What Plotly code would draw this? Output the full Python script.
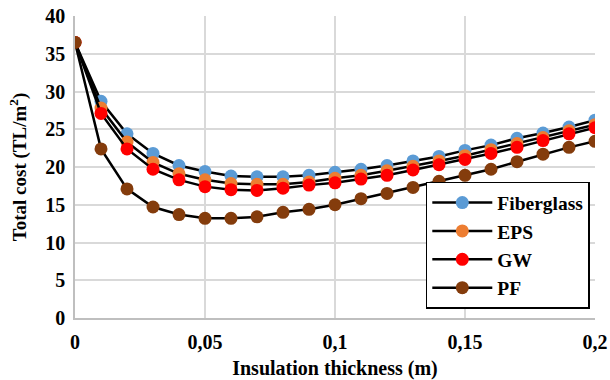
import plotly.graph_objects as go

thickness = [0, 0.01, 0.02, 0.03, 0.04, 0.05, 0.06, 0.07, 0.08, 0.09, 0.10,
             0.11, 0.12, 0.13, 0.14, 0.15, 0.16, 0.17, 0.18, 0.19, 0.20]
fiberglass = [36.5, 28.7, 24.4, 21.8, 20.2, 19.4, 18.8, 18.7, 18.7, 18.9, 19.3,
              19.7, 20.2, 20.8, 21.4, 22.2, 22.9, 23.8, 24.5, 25.3, 26.2]
eps = [36.5, 27.8, 23.3, 20.6, 19.1, 18.3, 17.8, 17.7, 17.7, 18.0, 18.5,
       18.9, 19.5, 20.1, 20.8, 21.5, 22.3, 23.1, 23.9, 24.8, 25.6]
gw = [36.5, 27.1, 22.4, 19.7, 18.3, 17.4, 17.0, 16.9, 17.2, 17.6, 17.9,
      18.4, 18.9, 19.6, 20.3, 21.0, 21.8, 22.6, 23.5, 24.4, 25.2]
pf = [36.5, 22.4, 17.1, 14.7, 13.7, 13.2, 13.2, 13.4, 14.0, 14.4, 15.0,
      15.8, 16.5, 17.3, 18.1, 18.9, 19.7, 20.7, 21.7, 22.6, 23.4]

series = [("Fiberglass", fiberglass, "#5B9BD5"),
          ("EPS", eps, "#ED7D31"),
          ("GW", gw, "#FF0000"),
          ("PF", pf, "#843C0C")]

x_tickvals = [0, 0.05, 0.1, 0.15, 0.2]
x_ticktext = ["<b>0</b>", "<b>0,05</b>", "<b>0,1</b>", "<b>0,15</b>", "<b>0,2</b>"]
y_tickvals = [0, 5, 10, 15, 20, 25, 30, 35, 40]
y_ticktext = ["<b>%d</b>" % v for v in y_tickvals]

font_family = "Liberation Serif, Times New Roman, serif"

fig = go.Figure()
for name, vals, color in series:
    fig.add_trace(go.Scatter(
        x=thickness, y=vals, name="<b>" + name + "</b>", mode="lines+markers",
        line=dict(color="black", width=2.5),
        marker=dict(color=color, size=13),
    ))

fig.update_layout(
    width=610, height=380,
    margin=dict(l=75, r=15, t=16, b=62),
    paper_bgcolor="white", plot_bgcolor="white",
    font=dict(family=font_family, size=19, color="black"),
    showlegend=True,
    legend=dict(
        x=0.99, y=0.03, xanchor="right", yanchor="bottom",
        bgcolor="white", bordercolor="black", borderwidth=1.5,
        font=dict(family=font_family, size=19.5, color="black"),
        tracegroupgap=0, itemwidth=60,
    ),
    xaxis=dict(
        range=[0, 0.2], tickvals=x_tickvals, ticktext=x_ticktext,
        showgrid=True, gridcolor="#d9d9d9", gridwidth=1.5,
        showline=True, linecolor="#bfbfbf", linewidth=1.5,
        zeroline=False, ticks="", automargin=False, ticklabelstandoff=5,
        tickfont=dict(family=font_family, size=20, color="black"),
        title=dict(text="<b>Insulation thickness (m)</b>", standoff=14,
                   font=dict(family=font_family, size=20, color="black")),
    ),
    yaxis=dict(
        range=[0, 40], tickvals=y_tickvals, ticktext=y_ticktext,
        showgrid=True, gridcolor="#d9d9d9", gridwidth=1.5,
        showline=True, linecolor="#bfbfbf", linewidth=1.5,
        zeroline=False, ticks="", automargin=False, ticklabelstandoff=4,
        tickfont=dict(family=font_family, size=20, color="black"),
        title=dict(text="<b>Total cost (TL/m<sup>2</sup>)</b>", standoff=14,
                   font=dict(family=font_family, size=19, color="black")),
    ),
)

fig.write_html("out.html")
